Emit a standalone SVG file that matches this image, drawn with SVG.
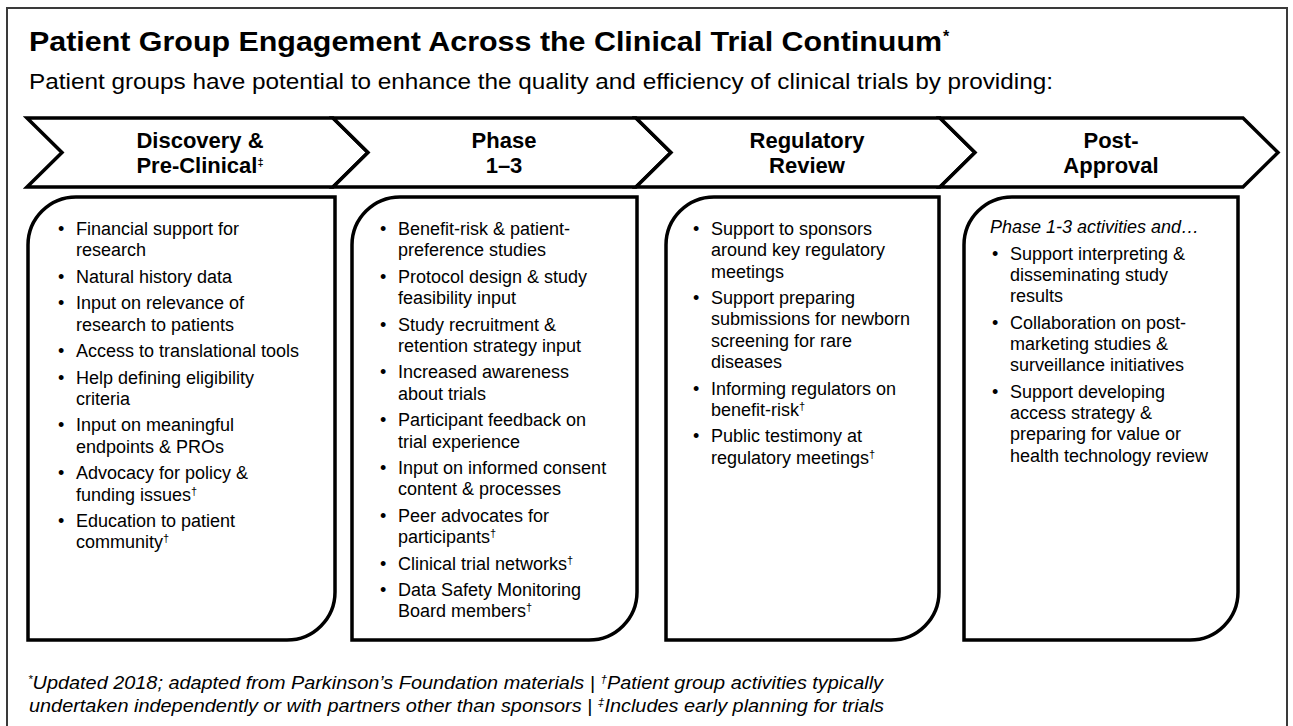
<svg xmlns="http://www.w3.org/2000/svg" width="1293" height="726" viewBox="0 0 1293 726">
  <style>
    .t { font-family: "Liberation Sans", Arial, Helvetica, sans-serif; fill: #000; }
    .title { font-size: 28.5px; font-weight: bold; }
    .sub { font-size: 22px; }
    .hd { font-size: 22px; font-weight: bold; text-anchor: middle; }
    .body { font-size: 18px; }
    .it { font-style: italic; }
    .foot { font-size: 18.5px; font-style: italic; }
    .sup { font-size: 11px; }
    .chev { fill: #fff; stroke: #000; stroke-width: 3.5; stroke-linejoin: miter; }
    .box { fill: #fff; stroke: #000; stroke-width: 3.5; }
    .frame { fill: #fff; stroke: #3a3a3a; stroke-width: 2; }
  </style>

  <!-- page frame (runs off the lower edge) -->
  <rect class="frame" x="7" y="8" width="1280" height="730"/>

  <!-- heading -->
  <g id="heading">
    <text class="t title" x="29" y="51" textLength="913" lengthAdjust="spacingAndGlyphs">Patient Group Engagement Across the Clinical Trial Continuum</text>
    <text class="t" x="943" y="42" font-size="16" font-weight="bold">*</text>
    <text class="t sub" x="29" y="89" textLength="1024" lengthAdjust="spacingAndGlyphs">Patient groups have potential to enhance the quality and efficiency of clinical trials by providing:</text>
  </g>

  <!-- stage chevrons -->
  <g id="stages">
    <g id="stage-discovery">
      <path class="chev" d="M27,118 L333,118 L368,152.5 L333,187 L27,187 L62,152.5 Z"/>
      <text class="t hd" x="200" y="148">Discovery &amp;</text>
      <text class="t hd" x="200" y="173">Pre-Clinical<tspan class="sup" dy="-7">‡</tspan></text>
    </g>
    <g id="stage-phase">
      <path class="chev" d="M333,118 L636,118 L671,152.5 L636,187 L333,187 L368,152.5 Z"/>
      <text class="t hd" x="504" y="148">Phase</text>
      <text class="t hd" x="504" y="173">1–3</text>
    </g>
    <g id="stage-regulatory">
      <path class="chev" d="M636,118 L940,118 L975,152.5 L940,187 L636,187 L671,152.5 Z"/>
      <text class="t hd" x="807" y="148">Regulatory</text>
      <text class="t hd" x="807" y="173">Review</text>
    </g>
    <g id="stage-post">
      <path class="chev" d="M940,118 L1243,118 L1278,152.5 L1243,187 L940,187 L975,152.5 Z"/>
      <text class="t hd" x="1111" y="148">Post-</text>
      <text class="t hd" x="1111" y="173">Approval</text>
    </g>
  </g>

  <!-- activity panels: rounded top-left and bottom-right corners -->
  <g id="panel-discovery">
    <path class="box" d="M28,245 A48,48 0 0 1 76,197 L335,197 L335,592 A48,48 0 0 1 287,640 L28,640 Z"/>
    <g class="t body">
      <text x="58" y="235">•</text><text x="76" y="235">Financial support for</text>
      <text x="76" y="256.3">research</text>
      <text x="58" y="282.8">•</text><text x="76" y="282.8">Natural history data</text>
      <text x="58" y="309.3">•</text><text x="76" y="309.3">Input on relevance of</text>
      <text x="76" y="330.6">research to patients</text>
      <text x="58" y="357.1">•</text><text x="76" y="357.1">Access to translational tools</text>
      <text x="58" y="383.6">•</text><text x="76" y="383.6">Help defining eligibility</text>
      <text x="76" y="404.9">criteria</text>
      <text x="58" y="431.4">•</text><text x="76" y="431.4">Input on meaningful</text>
      <text x="76" y="452.7">endpoints &amp; PROs</text>
      <text x="58" y="479.2">•</text><text x="76" y="479.2">Advocacy for policy &amp;</text>
      <text x="76" y="500.5">funding issues<tspan class="sup" dy="-6">†</tspan></text>
      <text x="58" y="527">•</text><text x="76" y="527">Education to patient</text>
      <text x="76" y="548.3">community<tspan class="sup" dy="-6">†</tspan></text>
    </g>
  </g>

  <g id="panel-phase">
    <path class="box" d="M352,245 A48,48 0 0 1 400,197 L637,197 L637,592 A48,48 0 0 1 589,640 L352,640 Z"/>
    <g class="t body">
      <text x="380" y="235">•</text><text x="398" y="235">Benefit-risk &amp; patient-</text>
      <text x="398" y="256.3">preference studies</text>
      <text x="380" y="282.8">•</text><text x="398" y="282.8">Protocol design &amp; study</text>
      <text x="398" y="304.1">feasibility input</text>
      <text x="380" y="330.6">•</text><text x="398" y="330.6">Study recruitment &amp;</text>
      <text x="398" y="351.9">retention strategy input</text>
      <text x="380" y="378.4">•</text><text x="398" y="378.4">Increased awareness</text>
      <text x="398" y="399.7">about trials</text>
      <text x="380" y="426.2">•</text><text x="398" y="426.2">Participant feedback on</text>
      <text x="398" y="447.5">trial experience</text>
      <text x="380" y="474">•</text><text x="398" y="474">Input on informed consent</text>
      <text x="398" y="495.3">content &amp; processes</text>
      <text x="380" y="521.8">•</text><text x="398" y="521.8">Peer advocates for</text>
      <text x="398" y="543.1">participants<tspan class="sup" dy="-6">†</tspan></text>
      <text x="380" y="569.6">•</text><text x="398" y="569.6">Clinical trial networks<tspan class="sup" dy="-6">†</tspan></text>
      <text x="380" y="596.1">•</text><text x="398" y="596.1">Data Safety Monitoring</text>
      <text x="398" y="617.4">Board members<tspan class="sup" dy="-6">†</tspan></text>
    </g>
  </g>

  <g id="panel-regulatory">
    <path class="box" d="M666,245 A48,48 0 0 1 714,197 L939,197 L939,592 A48,48 0 0 1 891,640 L666,640 Z"/>
    <g class="t body">
      <text x="693" y="235">•</text><text x="711" y="235">Support to sponsors</text>
      <text x="711" y="256.3">around key regulatory</text>
      <text x="711" y="277.6">meetings</text>
      <text x="693" y="304.1">•</text><text x="711" y="304.1">Support preparing</text>
      <text x="711" y="325.4">submissions for newborn</text>
      <text x="711" y="346.7">screening for rare</text>
      <text x="711" y="368">diseases</text>
      <text x="693" y="394.5">•</text><text x="711" y="394.5">Informing regulators on</text>
      <text x="711" y="415.8">benefit-risk<tspan class="sup" dy="-6">†</tspan></text>
      <text x="693" y="442.3">•</text><text x="711" y="442.3">Public testimony at</text>
      <text x="711" y="463.6">regulatory meetings<tspan class="sup" dy="-6">†</tspan></text>
    </g>
  </g>

  <g id="panel-post">
    <path class="box" d="M964,245 A48,48 0 0 1 1012,197 L1238,197 L1238,592 A48,48 0 0 1 1190,640 L964,640 Z"/>
    <g class="t body">
      <text class="it" x="990" y="233">Phase 1-3 activities and…</text>
      <text x="992" y="259.5">•</text><text x="1010" y="259.5">Support interpreting &amp;</text>
      <text x="1010" y="280.8">disseminating study</text>
      <text x="1010" y="302.1">results</text>
      <text x="992" y="328.6">•</text><text x="1010" y="328.6">Collaboration on post-</text>
      <text x="1010" y="349.9">marketing studies &amp;</text>
      <text x="1010" y="371.2">surveillance initiatives</text>
      <text x="992" y="397.7">•</text><text x="1010" y="397.7">Support developing</text>
      <text x="1010" y="419">access strategy &amp;</text>
      <text x="1010" y="440.3">preparing for value or</text>
      <text x="1010" y="461.6">health technology review</text>
    </g>
  </g>

  <!-- footnotes -->
  <g id="footnotes">
    <text class="t foot" x="28" y="689" textLength="855" lengthAdjust="spacingAndGlyphs"><tspan class="sup" dy="-6">*</tspan><tspan dy="6">Updated 2018; adapted from Parkinson’s Foundation materials | </tspan><tspan class="sup" dy="-6">†</tspan><tspan dy="6">Patient group activities typically</tspan></text>
    <text class="t foot" x="29" y="712" textLength="855" lengthAdjust="spacingAndGlyphs">undertaken independently or with partners other than sponsors | <tspan class="sup" dy="-6">‡</tspan><tspan dy="6">Includes early planning for trials</tspan></text>
  </g>
</svg>
